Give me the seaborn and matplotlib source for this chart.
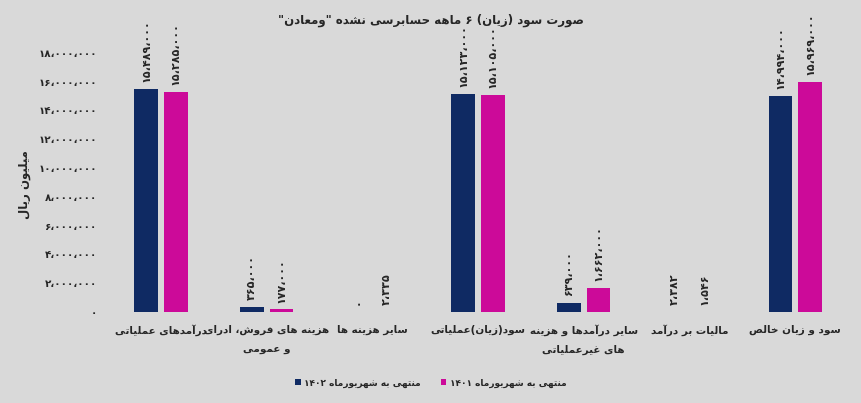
import matplotlib
matplotlib.use("Agg")
import matplotlib.pyplot as plt
import seaborn as sns
import pandas as pd

# data
categories = [
    "درآمدهای عملیاتی",
    "هزینه های فروش، ادرای\nو عمومی",
    "سایر هزینه ها",
    "سود(زیان)عملیاتی",
    "سایر درآمدها و هزینه\nهای غیرعملیاتی",
    "مالیات بر درآمد",
    "سود و زیان خالص",
]
periods = ["منتهی به شهریورماه ۱۴۰۲", "منتهی به شهریورماه ۱۴۰۱"]
values_1402 = [15489000, 365000, 0, 15123000, 639000, 2382, 14994000]
values_1401 = [15285000, 177000, 2335, 15105000, 1662000, 1546, 15969000]
y_ticks = [0, 2000000, 4000000, 6000000, 8000000, 10000000,
           12000000, 14000000, 16000000, 18000000]
title = 'صورت سود (زیان) ۶ ماهه حسابرسی نشده "ومعادن"'
y_label = "میلیون ریال"
colors = ["#0f2a63", "#cc0a99"]

# matplotlib has no arabic shaping: map letters to presentation forms
# (isolated, final, initial, medial) and lay them out right to left
FORMS = {
    "ا": ("\uFE8D", "\uFE8E", "\uFE8D", "\uFE8E"),
    "آ": ("\uFE81", "\uFE82", "\uFE81", "\uFE82"),
    "ب": ("\uFE8F", "\uFE90", "\uFE91", "\uFE92"),
    "ت": ("\uFE95", "\uFE96", "\uFE97", "\uFE98"),
    "ح": ("\uFEA1", "\uFEA2", "\uFEA3", "\uFEA4"),
    "خ": ("\uFEA5", "\uFEA6", "\uFEA7", "\uFEA8"),
    "د": ("\uFEA9", "\uFEAA", "\uFEA9", "\uFEAA"),
    "ر": ("\uFEAD", "\uFEAE", "\uFEAD", "\uFEAE"),
    "ز": ("\uFEAF", "\uFEB0", "\uFEAF", "\uFEB0"),
    "س": ("\uFEB1", "\uFEB2", "\uFEB3", "\uFEB4"),
    "ش": ("\uFEB5", "\uFEB6", "\uFEB7", "\uFEB8"),
    "ص": ("\uFEB9", "\uFEBA", "\uFEBB", "\uFEBC"),
    "ع": ("\uFEC9", "\uFECA", "\uFECB", "\uFECC"),
    "غ": ("\uFECD", "\uFECE", "\uFECF", "\uFED0"),
    "ف": ("\uFED1", "\uFED2", "\uFED3", "\uFED4"),
    "ل": ("\uFEDD", "\uFEDE", "\uFEDF", "\uFEE0"),
    "م": ("\uFEE1", "\uFEE2", "\uFEE3", "\uFEE4"),
    "ن": ("\uFEE5", "\uFEE6", "\uFEE7", "\uFEE8"),
    "ه": ("\uFEE9", "\uFEEA", "\uFEEB", "\uFEEC"),
    "و": ("\uFEED", "\uFEEE", "\uFEED", "\uFEEE"),
    "ی": ("\uFBFC", "\uFBFD", "\uFBFE", "\uFBFF"),
}
RIGHT_ONLY = set("اآدرزو")
MIRROR = {"(": ")", ")": "("}
DIGITS = set("0123456789۰۱۲۳۴۵۶۷۸۹")


def shape_line(text):
    out = []
    for i, ch in enumerate(text):
        if ch not in FORMS:
            out.append(ch)
            continue
        prev = text[i - 1] if i > 0 else ""
        nxt = text[i + 1] if i + 1 < len(text) else ""
        join_prev = prev in FORMS and prev not in RIGHT_ONLY
        join_next = ch not in RIGHT_ONLY and nxt in FORMS
        iso, fin, ini, med = FORMS[ch]
        if join_prev and join_next:
            out.append(med)
        elif join_prev:
            out.append(fin)
        elif join_next:
            out.append(ini)
        else:
            out.append(iso)
    # split into digit runs (kept ltr) and the rest (reversed)
    runs = []
    for ch in out:
        is_num = ch in DIGITS
        if runs and runs[-1][0] == is_num:
            runs[-1][1].append(ch)
        else:
            runs.append((is_num, [ch]))
    vis = ""
    for is_num, chars in reversed(runs):
        if is_num:
            vis += "".join(chars)
        else:
            vis += "".join(MIRROR.get(c, c) for c in reversed(chars))
    return vis


def fa(text):
    return "\n".join(shape_line(line) for line in text.split("\n"))


def fa_num(n):
    return f"{n:,}".replace(",", "،").translate(str.maketrans("0123456789", "۰۱۲۳۴۵۶۷۸۹"))


df = pd.DataFrame({
    "category": categories * 2,
    "period": [periods[0]] * len(categories) + [periods[1]] * len(categories),
    "value": values_1402 + values_1401,
})

sns.set_style("white")
plt.rcParams["font.family"] = ["DejaVu Sans"]
plt.rcParams["font.weight"] = "bold"

bg = "#d9d9d9"
fig = plt.figure(figsize=(8.62, 4.03), dpi=100, facecolor=bg)
ax = fig.add_axes([0.1253, 0.2258, 0.8585, 0.7146], facecolor=bg)

sns.barplot(data=df, x="category", y="value", hue="period",
            hue_order=periods, palette=colors, width=0.56, gap=0.2,
            saturation=1, linewidth=0, ax=ax)

for cont, vals in zip(ax.containers, [values_1402, values_1401]):
    ax.bar_label(cont, labels=[fa_num(v) for v in vals], rotation=90,
                 padding=5, fontsize=8, fontweight="bold")

ax.set_ylim(0, 20000000)
ax.set_yticks(y_ticks)
ax.set_yticklabels([fa_num(v) for v in y_ticks], fontsize=7.5, fontweight="bold")
ax.set_xticks(range(len(categories)))
ax.set_xticklabels([fa(c) for c in categories], fontsize=7.5, fontweight="bold",
                   linespacing=2.1, va="top")
ax.tick_params(axis="both", length=0)
ax.tick_params(axis="y", pad=8)
ax.tick_params(axis="x", pad=9)
ax.set_xlabel("")
ax.set_ylabel("")
sns.despine(ax=ax, left=True, bottom=True)

fig.text(25 / 862, 1 - 185 / 403, fa(y_label), rotation=90, ha="center",
         va="center", fontsize=8.5, fontweight="bold")
fig.text(0.5, 1 - 20 / 403, fa(title), ha="center", va="center",
         fontsize=8.5, fontweight="bold")

handles, labels = ax.get_legend_handles_labels()
ax.legend(handles, [fa(l) for l in labels], ncol=2, frameon=False,
          loc="center", bbox_to_anchor=(0.5, 1 - 383 / 403),
          bbox_transform=fig.transFigure, fontsize=6.5,
          handlelength=0.6, handleheight=0.6, handletextpad=0.4,
          columnspacing=2.2)

fig.savefig("out.png", dpi=100, facecolor=bg)
